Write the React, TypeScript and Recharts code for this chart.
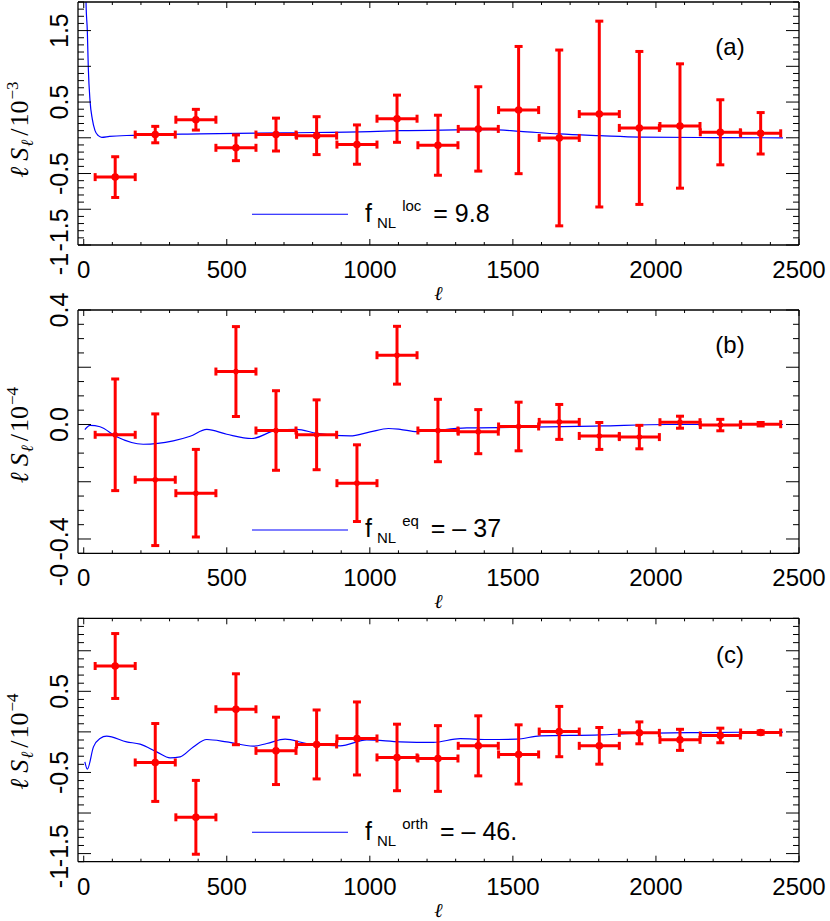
import React from 'react'
import { ComposedChart, Line, Scatter, ErrorBar, XAxis, YAxis } from 'recharts'

// multipole bin centres, shared by the three panels
const ELL = [110, 250, 392, 532, 672, 814, 955, 1095, 1238, 1379, 1520, 1662, 1802, 1942, 2084, 2225, 2366]
const BIN_HALF = 70

// (a) local shape
const LOC_S = [-0.55, 0.045, 0.253, -0.14, 0.045, 0.03, -0.095, 0.267, -0.104, 0.124, 0.388, -0.002, 0.332, 0.138, 0.165, 0.077, 0.063]
const LOC_ERR = [0.285, 0.115, 0.145, 0.18, 0.23, 0.265, 0.275, 0.33, 0.42, 0.59, 0.89, 1.23, 1.3, 1.07, 0.87, 0.455, 0.29]
const LOC_FIT_ELL = [6, 8, 12.6, 16, 22, 30, 39.5, 51, 63, 90, 173, 406, 700, 1001, 1106, 1300, 1420, 1525, 1661, 1804, 1944, 2200, 2444]
const LOC_FIT = [2.4, 1.9, 1.49, 0.98, 0.52, 0.26, 0.1, 0.03, 0.007, 0.02, 0.035, 0.054, 0.07, 0.086, 0.1, 0.11, 0.114, 0.09, 0.054, 0.03, 0.01, 0.003, 0]

// (b) equilateral shape
const EQ_S = [-0.036, -0.193, -0.24, 0.185, -0.021, -0.036, -0.205, 0.242, -0.021, -0.025, -0.007, 0.009, -0.04, -0.044, 0.008, -0.002, 0.001]
const EQ_ERR = [0.195, 0.23, 0.153, 0.157, 0.139, 0.122, 0.134, 0.101, 0.109, 0.077, 0.085, 0.061, 0.047, 0.041, 0.021, 0.02, 0.006]
const EQ_FIT_ELL = [4, 22, 57, 115, 208, 313, 372, 430, 500, 587, 675, 744, 814, 931, 1001, 1065, 1106, 1164, 1339, 1513, 1805, 2038, 2444]
const EQ_FIT = [-0.018, -0.003, -0.008, -0.043, -0.069, -0.057, -0.041, -0.017, -0.034, -0.049, -0.02, -0.017, -0.031, -0.04, -0.026, -0.014, -0.017, -0.025, -0.012, -0.01, -0.005, 0, 0]

// (c) orthogonal shape
const ORTH_S = [0.812, -0.377, -1.053, 0.279, -0.234, -0.155, -0.081, -0.315, -0.328, -0.172, -0.278, 0.004, -0.172, -0.012, -0.098, -0.044, -0.008]
const ORTH_ERR = [0.4, 0.48, 0.455, 0.437, 0.415, 0.425, 0.45, 0.41, 0.405, 0.37, 0.365, 0.31, 0.226, 0.135, 0.13, 0.09, 0.02]
const ORTH_FIT_ELL = [4, 12.6, 34, 57, 80, 150, 197, 255, 302, 337, 383, 430, 500, 593, 640, 704, 779, 896, 989, 1106, 1222, 1316, 1409, 1513, 1595, 1805, 1921, 2154, 2444]
const ORTH_FIT = [-0.369, -0.459, -0.185, -0.082, -0.053, -0.123, -0.151, -0.246, -0.32, -0.307, -0.185, -0.094, -0.123, -0.176, -0.143, -0.09, -0.143, -0.172, -0.098, -0.123, -0.13, -0.082, -0.094, -0.09, -0.049, -0.037, -0.02, -0.008, -0.003]

const X_DOMAIN: [number, number] = [-20, 2500]
const X_LABELS = [0, 500, 1000, 1500, 2000, 2500]

const SANS = '"Liberation Sans", Arial, Helvetica, sans-serif'
const SERIF = '"Liberation Serif", "DejaVu Serif", serif'
const RED = '#ff0000'
const BLUE = '#0000ff'

const range = (lo: number, hi: number, step: number) => {
  const out: number[] = []
  const n = Math.round((hi - lo) / step)
  for (let i = 0; i <= n; i++) out.push(Math.round((lo + i * step) * 1000) / 1000)
  return out
}
const isMult = (v: number, step: number) => Math.abs(v / step - Math.round(v / step)) < 1e-6

const X_TICKS = range(0, 2500, 100)

// layout: every y below is local to the panel's own box
const panels = [
  {
    top: 0, height: 305, plotTop: 2, plotBottom: 245,
    yDomain: [-1.5, 1.9], yMinor: 0.1, yMajor: 0.5, yLabels: [1.5, 0.5, -0.5, -1.5], lowShift: -15,
    s: LOC_S, err: LOC_ERR, fitEll: LOC_FIT_ELL, fit: LOC_FIT, dotR: 3.8,
    tag: '(a)', tagBase: 55, sup: 'loc', val: '= 9.8', exp: '\u22123',
    legY: 214.3, legBase: 221.7, titleC: 129.5, stray: '-1', strayC: 264,
  },
  {
    top: 280, height: 335, plotTop: 30, plotBottom: 273.3,
    yDomain: [-0.45, 0.4], yMinor: 0.05, yMajor: 0.2, yLabels: [0.4, 0, -0.4], lowShift: 0,
    s: EQ_S, err: EQ_ERR, fitEll: EQ_FIT_ELL, fit: EQ_FIT, dotR: 2.8,
    tag: '(b)', tagBase: 73, sup: 'eq', val: '= \u2013 37', exp: '\u22124',
    legY: 250, legBase: 256.7, titleC: 155, stray: '-0', strayC: 295,
  },
  {
    top: 600, height: 321, plotTop: 18.3, plotBottom: 261.7,
    yDomain: [-1.6, 1.4], yMinor: 0.1, yMajor: 0.5, yLabels: [0.5, -0.5, -1.5], lowShift: -8,
    s: ORTH_S, err: ORTH_ERR, fitEll: ORTH_FIT_ELL, fit: ORTH_FIT, dotR: 3.8,
    tag: '(c)', tagBase: 63, sup: 'orth', val: '= \u2013 46.', exp: '\u22124',
    legY: 232.3, legBase: 240, titleC: 141.5, stray: '-1', strayC: 277,
  },
]

type P = (typeof panels)[number]

const bottomTick = (props: any) => {
  const { x, y, payload } = props
  const major = isMult(payload.value, 500)
  return (
    <g>
      <line x1={x} x2={x} y1={y} y2={y - (major ? 6 : 3)} stroke="#000" strokeWidth={1} />
      {X_LABELS.includes(payload.value) && (
        <text x={x} y={y + 33} textAnchor="middle" fontSize={24} fontFamily={SANS} fill="#000">{payload.value}</text>
      )}
    </g>
  )
}

const topTick = (props: any) => {
  const { x, y, payload } = props
  const major = isMult(payload.value, 500)
  return <line x1={x} x2={x} y1={y} y2={y + (major ? 6 : 3)} stroke="#000" strokeWidth={1} />
}

const leftTick = (p: P) => (props: any) => {
  const { x, y, payload } = props
  const v = payload.value
  const major = isMult(v, p.yMajor)
  const lab = p.yLabels.find((l) => Math.abs(l - v) < 1e-6)
  const low = Math.min(...p.yLabels)
  const ty = y + (lab !== undefined && lab === low ? p.lowShift : 0)
  return (
    <g>
      <line x1={x} x2={x + (major ? 13 : 6)} y1={y} y2={y} stroke="#000" strokeWidth={1} />
      {lab !== undefined && (
        <text x={x - 10} y={ty} transform={`rotate(-90, ${x - 10}, ${ty})`} textAnchor="middle"
          fontSize={25} fontFamily={SANS} fill="#000">{lab.toFixed(1)}</text>
      )}
    </g>
  )
}

const rightTick = (p: P) => (props: any) => {
  const { x, y, payload } = props
  const major = isMult(payload.value, p.yMajor)
  return <line x1={x} x2={x - (major ? 13 : 6)} y1={y} y2={y} stroke="#000" strokeWidth={1} />
}

function Labels({ p }: { p: P }) {
  const plotMidX = (78 + 799) / 2
  return (
    <g>
      {/* panel tag */}
      <text x={730} y={p.tagBase} textAnchor="middle" fontSize={24} fontFamily={SANS} fill="#000">{p.tag}</text>
      {/* legend */}
      <line x1={252} x2={348} y1={p.legY} y2={p.legY} stroke={BLUE} strokeWidth={1.1} />
      <text x={365} y={p.legBase} fontSize={25} fontFamily={SANS} fill="#000">
        f<tspan dx={5} dy={6} fontSize={15}>NL</tspan>
        <tspan dx={6} dy={-17} fontSize={15}>{p.sup}</tspan>
        <tspan dx={12} dy={11}>{p.val}</tspan>
      </text>
      {/* y title */}
      <text x={28} y={p.titleC} transform={`rotate(-90, 28, ${p.titleC})`} textAnchor="middle"
        fontSize={26} fontFamily={SERIF} fill="#000">
        <tspan fontStyle="italic">{'\u2113'}</tspan>
        <tspan dx={6} fontStyle="italic">S</tspan>
        <tspan dx={1} dy={5} fontSize={17} fontStyle="italic">{'\u2113'}</tspan>
        <tspan dx={4} dy={-5}>/</tspan>
        <tspan dx={2}>10</tspan>
        <tspan dx={1} dy={-10} fontSize={17}>{p.exp}</tspan>
      </text>
      {/* stray tick text under the axis */}
      <text x={68} y={p.strayC} transform={`rotate(-90, 68, ${p.strayC})`} textAnchor="middle"
        fontSize={25} fontFamily={SANS} fill="#000">{p.stray}</text>
      {/* x title */}
      <text x={plotMidX} y={p.plotBottom + 55} textAnchor="middle" fontSize={20} fontStyle="italic"
        fontFamily={SERIF} fill="#000">{'\u2113'}</text>
    </g>
  )
}

function Panel({ p }: { p: P }) {
  const points = ELL.map((l, i) => ({ x: l, y: p.s[i], ex: BIN_HALF, ey: p.err[i] }))
  const fit = p.fitEll.map((l, i) => ({ x: l, y: p.fit[i] }))
  const yTicks = range(p.yDomain[0], p.yDomain[1], p.yMinor)
  const axisLine = { stroke: '#000', strokeWidth: 1.3 }

  return (
    <div style={{ position: 'absolute', left: 0, top: p.top, width: 830, height: p.height }}>
      <ComposedChart width={830} height={p.height} margin={{ top: 0, right: 0, bottom: 0, left: 0 }}>
        <XAxis xAxisId="b" type="number" dataKey="x" domain={X_DOMAIN} allowDataOverflow ticks={X_TICKS}
          interval={0} tickSize={0} tickMargin={0} tickLine={false} tick={bottomTick}
          height={p.height - p.plotBottom} axisLine={axisLine} />
        <XAxis xAxisId="t" orientation="top" type="number" dataKey="x" domain={X_DOMAIN} allowDataOverflow
          ticks={X_TICKS} interval={0} tickSize={0} tickMargin={0} tickLine={false} tick={topTick}
          height={p.plotTop} axisLine={axisLine} />
        <YAxis yAxisId="l" type="number" domain={p.yDomain} allowDataOverflow ticks={yTicks} interval={0}
          tickSize={0} tickMargin={0} tickLine={false} tick={leftTick(p)} width={78} axisLine={axisLine} />
        <YAxis yAxisId="r" orientation="right" type="number" domain={p.yDomain} allowDataOverflow ticks={yTicks}
          interval={0} tickSize={0} tickMargin={0} tickLine={false} tick={rightTick(p)} width={31} axisLine={axisLine} />
        <Line xAxisId="b" yAxisId="l" data={fit} dataKey="y" type="monotone" stroke={BLUE} strokeWidth={1.2}
          dot={false} activeDot={false} isAnimationActive={false} />
        <Scatter xAxisId="b" yAxisId="l" data={points} dataKey="y" fill={RED} isAnimationActive={false}
          shape={(sp: any) => <circle cx={sp.cx} cy={sp.cy} r={p.dotR} fill={RED} />}>
          <ErrorBar dataKey="ex" direction="x" width={4} stroke={RED} strokeWidth={3} isAnimationActive={false} />
          <ErrorBar dataKey="ey" direction="y" width={4} stroke={RED} strokeWidth={3} isAnimationActive={false} />
        </Scatter>
        <Labels p={p} />
      </ComposedChart>
    </div>
  )
}

export default function App() {
  return (
    <div style={{ position: 'absolute', left: 0, top: 0, width: 830, height: 921, background: '#fff' }}>
      {panels.map((p) => (
        <Panel key={p.tag} p={p} />
      ))}
    </div>
  )
}
